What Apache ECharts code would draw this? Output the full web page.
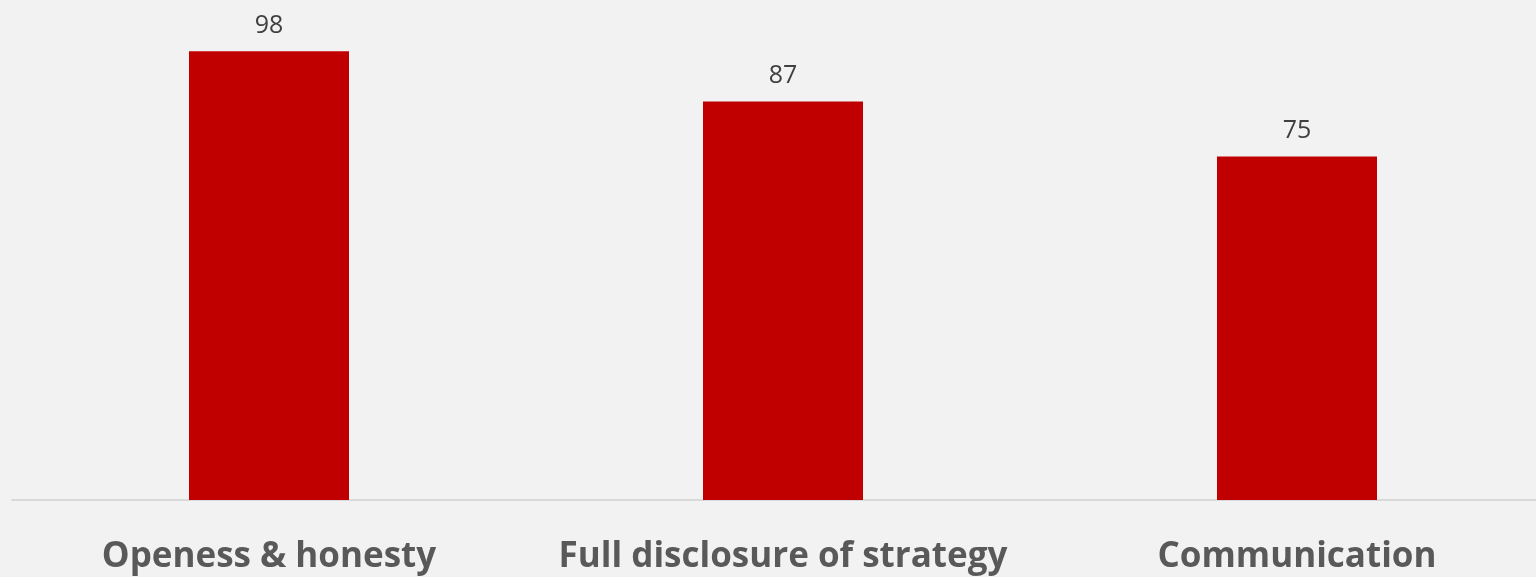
<!DOCTYPE html>
<html><head><meta charset="utf-8">
<script src="https://cdn.jsdelivr.net/npm/echarts@6/dist/echarts.min.js"></script>
<style>html,body{margin:0;padding:0;background:#f2f2f2;overflow:hidden}#c{width:1554px;height:577px}</style>
</head><body><div id="c"></div>
<script>
const categories = ["Openess & honesty", "Full disclosure of strategy", "Communication"];
const values = [98, 87, 75];
const chart = echarts.init(document.getElementById('c'), null, {renderer: 'canvas'});
chart.setOption({
  backgroundColor: '#f2f2f2',
  animation: false,
  grid: {left: 12, right: 0, top: 42, bottom: 77, containLabel: false},
  xAxis: {
    type: 'category', data: categories,
    axisLine: {lineStyle: {color: '#d9d9d9', width: 2}},
    axisTick: {show: false},
    axisLabel: {interval: 0, margin: 40, fontFamily: 'Open Sans', fontWeight: 'bold', fontSize: 35, color: '#595959'}
  },
  yAxis: {type: 'value', min: 0, max: 100, show: false, splitLine: {show: false}},
  series: [{
    type: 'bar', data: values, barWidth: 160,
    itemStyle: {color: '#c00000'},
    label: {show: true, position: 'top', distance: 13, fontFamily: 'Open Sans', fontSize: 25, color: '#404040'}
  }]
});
</script></body></html>
